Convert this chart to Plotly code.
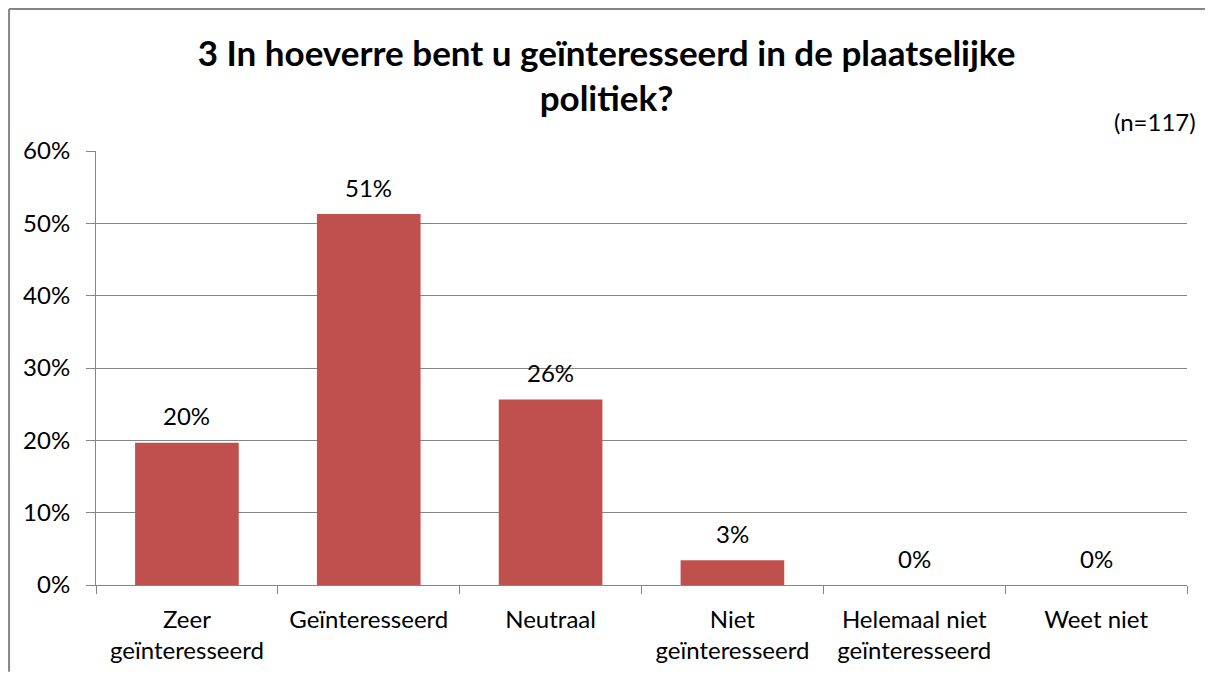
import plotly.graph_objects as go

categories = ["Zeer<br>geïnteresseerd", "Geïnteresseerd", "Neutraal",
              "Niet<br>geïnteresseerd", "Helemaal niet<br>geïnteresseerd", "Weet niet"]
values = [19.66, 51.28, 25.64, 3.42, 0.0, 0.0]
labels = ["20%", "51%", "26%", "3%", "0%", "0%"]
y_ticks = [0, 10, 20, 30, 40, 50, 60]
y_tick_text = ["0%", "10%", "20%", "30%", "40%", "50%", "60%"]

FONT = "Lato, Carlito, Calibri, sans-serif"
GRID = "#868686"
FS = 24

fig = go.Figure()
fig.add_trace(go.Bar(x=categories, y=values, marker=dict(color="#C0504D", line=dict(width=0)),
                     showlegend=False, hoverinfo="skip"))

for c, v, t in zip(categories, values, labels):
    fig.add_annotation(x=c, y=v, text=t, showarrow=False, yanchor="middle", yshift=27,
                       font=dict(family=FONT, size=FS, color="#000000"))

fig.add_annotation(xref="paper", yref="paper", x=1.01, y=1.069, xanchor="right", yanchor="middle",
                   text="(n=117)", showarrow=False, font=dict(family=FONT, size=FS, color="#000000"))

# chart-area border (left and top edges; right/bottom fall outside the picture)
fig.add_shape(type="line", xref="paper", yref="paper", x0=-0.0797, x1=-0.0797, y0=-0.2, y1=1.327,
              line=dict(color="#868686", width=2), layer="below")
fig.add_shape(type="line", xref="paper", yref="paper", x0=-0.0797, x1=1.0165, y0=1.327, y1=1.327,
              line=dict(color="#868686", width=2), layer="below")

fig.update_layout(
    width=1197, height=665,
    margin=dict(l=88, r=18, t=143, b=88, autoexpand=False),
    paper_bgcolor="white", plot_bgcolor="white",
    bargap=0.43,
    title=dict(text="<b>3 In hoeverre bent u geïnteresseerd in de plaatselijke<br>politiek?</b>",
               x=0.5, xanchor="center", y=0.913, yanchor="middle",
               font=dict(family=FONT, size=35, color="#000000")),
    font=dict(family=FONT, size=FS, color="#000000"),
    xaxis=dict(type="category", showgrid=False, showline=True, linecolor=GRID, linewidth=1,
               ticks="outside", tickson="boundaries", ticklen=8, tickcolor=GRID,
               ticklabelstandoff=13,
               tickfont=dict(family=FONT, size=FS, color="#000000")),
    yaxis=dict(range=[0, 60], tickvals=y_ticks, ticktext=y_tick_text, showgrid=True,
               gridcolor=GRID, gridwidth=1, showline=True, linecolor=GRID, linewidth=1,
               ticks="outside", ticklen=9, tickcolor=GRID, zeroline=False,
               ticklabelstandoff=11,
               tickfont=dict(family=FONT, size=FS, color="#000000")),
)

fig.write_html("out.html")
